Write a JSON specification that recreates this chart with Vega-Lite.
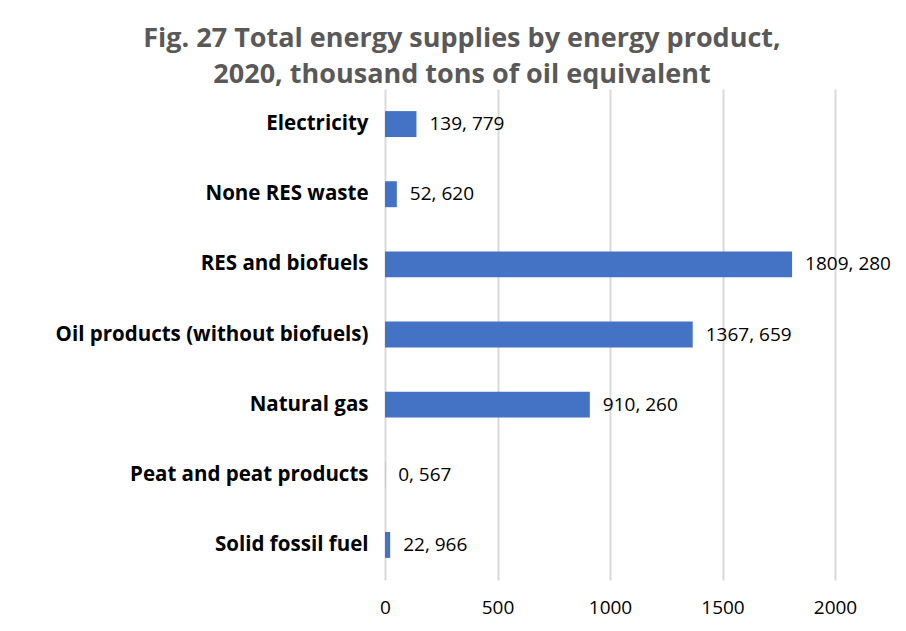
{
  "$schema": "https://vega.github.io/schema/vega-lite/v6.json",
  "width": 450,
  "height": 491,
  "autosize": {"type": "none"},
  "padding": {"left": 385, "top": 89, "right": 71, "bottom": 51},
  "background": "white",
  "title": {
    "text": ["Fig. 27 Total energy supplies by energy product,", "2020, thousand tons of oil equivalent"],
    "font": "Open Sans",
    "fontSize": 27,
    "fontWeight": "bold",
    "color": "#595959",
    "anchor": "middle",
    "frame": "group",
    "dx": -148,
    "offset": 0,
    "lineHeight": 36
  },
  "data": {
    "values": [
      {"product": "Electricity", "value": 139.779},
      {"product": "None RES waste", "value": 52.62},
      {"product": "RES and biofuels", "value": 1809.28},
      {"product": "Oil products (without biofuels)", "value": 1367.659},
      {"product": "Natural gas", "value": 910.26},
      {"product": "Peat and peat products", "value": 0.567},
      {"product": "Solid fossil fuel", "value": 22.966}
    ]
  },
  "transform": [
    {"calculate": "replace(format(datum.value, '.3f'), '.', ', ')", "as": "label"}
  ],
  "encoding": {
    "y": {
      "field": "product",
      "type": "nominal",
      "sort": null,
      "scale": {"paddingInner": 0.63, "paddingOuter": 0.315},
      "axis": {
        "title": null,
        "domain": false,
        "ticks": false,
        "labelFont": "Open Sans",
        "labelFontWeight": "bold",
        "labelFontSize": 20.5,
        "labelColor": "#000000",
        "labelPadding": 17,
        "labelLimit": 400
      }
    },
    "x": {
      "field": "value",
      "type": "quantitative",
      "scale": {"domain": [0, 2000], "nice": false},
      "axis": {
        "title": null,
        "values": [0, 500, 1000, 1500, 2000],
        "domain": false,
        "ticks": false,
        "grid": true,
        "gridColor": "#d9d9d9",
        "gridWidth": 2,
        "labelFlush": false,
        "labelFont": "Open Sans",
        "labelFontSize": 19,
        "labelColor": "#000000",
        "labelPadding": 18,
        "format": "d"
      }
    }
  },
  "layer": [
    {"mark": {"type": "bar", "color": "#4472C4"}},
    {
      "mark": {"type": "text", "align": "left", "baseline": "middle", "dx": 13, "font": "Open Sans", "fontSize": 19, "color": "#000000"},
      "encoding": {"text": {"field": "label"}}
    }
  ],
  "config": {"view": {"stroke": null}}
}
